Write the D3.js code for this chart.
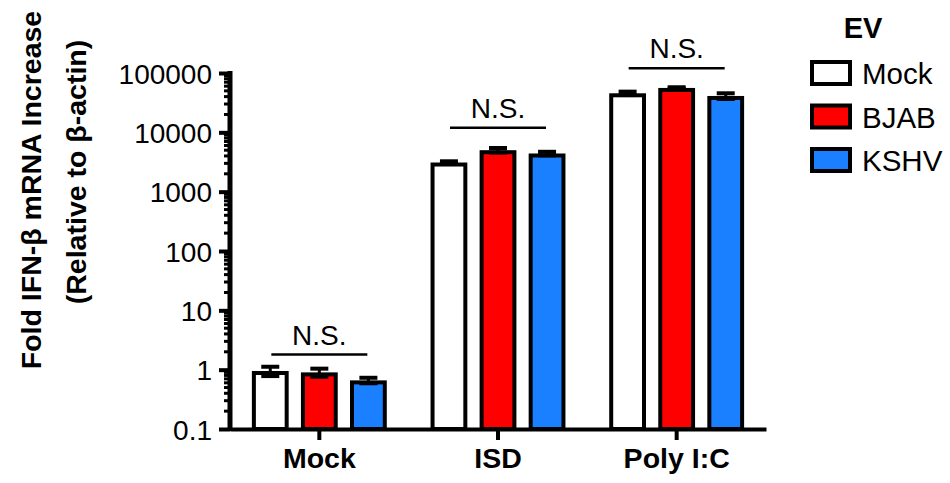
<!DOCTYPE html>
<html>
<head>
<meta charset="utf-8">
<script src="https://cdn.jsdelivr.net/npm/d3@7"></script>
<style>
  body { margin: 0; background: #fff; }
  text { font-family: "Liberation Sans", Arial, Helvetica, sans-serif; fill: #000; }
</style>
</head>
<body>
<div class="main"></div>
<script>
//data
var groups = ["Mock", "ISD", "Poly I:C"];
var series = ["Mock", "BJAB", "KSHV"];
var colours = ["#ffffff", "#ff0000", "#1a80ff"];
// values per group, in series order
var meanValues = [
  [0.95, 0.9, 0.66],
  [3100, 5000, 4400],
  [45500, 56000, 41000]
];
var errValues = [
  [0.17, 0.14, 0.07],
  [150, 450, 300],
  [3000, 1500, 4500]
];
var nsLevels = [1.8, 12000, 120000];
var yTicks = [0.1, 1, 10, 100, 1000, 10000, 100000];

//canvas config
var width = 950, height = 483;
var svg = d3.select(".main")
  .append("svg")
  .attr("width", width)
  .attr("height", height);

var x0 = d3.scaleBand()
  .domain(groups)
  .range([230, 766]);
var x1 = d3.scaleBand()
  .domain(series)
  .range([0, x0.bandwidth()])
  .paddingInner(0.25)
  .paddingOuter(0.446);
var yScale = d3.scaleLog()
  .domain([0.1, 100000])
  .range([429, 73]);

//minor ticks
var minorTicks = [];
for (var d = -1; d < 5; d++) {
  for (var m = 2; m < 10; m++) minorTicks.push(m * Math.pow(10, d));
}
svg.append("g")
  .attr("transform", "translate(230,0)")
  .selectAll("line")
  .data(minorTicks)
  .enter()
  .append("line")
  .attr("x1", -6).attr("x2", 0)
  .attr("y1", function(d) { return yScale(d); })
  .attr("y2", function(d) { return yScale(d); })
  .style("stroke", "#000")
  .style("stroke-width", 3);

//y axis
var yAxis = d3.axisLeft(yScale)
  .tickValues(yTicks)
  .tickFormat(function(d) { return d < 1 ? "0.1" : d3.format("d")(d); })
  .tickSize(11)
  .tickPadding(7);
var gy = svg.append("g")
  .attr("class", "y-axis")
  .attr("transform", "translate(230,0)")
  .call(yAxis);
gy.select(".domain").attr("d", "M0," + (yScale(0.1) + 2) + "V" + (yScale(100000) - 2))
  .style("stroke", "#000").style("stroke-width", 5);
gy.selectAll(".tick line").style("stroke", "#000").style("stroke-width", 4);
gy.selectAll(".tick text")
  .style("font-size", "28px")
  .attr("dy", "0.36em");

//bars
var groupG = svg.append("g")
  .selectAll("g")
  .data(groups)
  .enter()
  .append("g")
  .attr("transform", function(d) { return "translate(" + x0(d) + ",0)"; });

groupG.each(function(g, gi) {
  var sel = d3.select(this);
  series.forEach(function(s, si) {
    var v = meanValues[gi][si];
    var e = errValues[gi][si];
    var bx = x1(s);
    var bw = x1.bandwidth();
    var cx = bx + bw / 2;
    sel.append("rect")
      .attr("x", bx + 2)
      .attr("y", yScale(v) + 2)
      .attr("width", bw - 4)
      .attr("height", yScale(0.1) - yScale(v) - 2)
      .style("fill", colours[si])
      .style("stroke", "#000")
      .style("stroke-width", 4);
    //error bar
    var top = yScale(v + e), bot = yScale(Math.max(v - e, 0.11));
    sel.append("line")
      .attr("x1", cx).attr("x2", cx)
      .attr("y1", top).attr("y2", bot)
      .style("stroke", "#000").style("stroke-width", 3);
    [top, bot].forEach(function(yy) {
      sel.append("line")
        .attr("x1", cx - 9).attr("x2", cx + 9)
        .attr("y1", yy).attr("y2", yy)
        .style("stroke", "#000").style("stroke-width", 4);
    });
  });
  //N.S. annotation
  var cg = x0.bandwidth() / 2;
  var ly = yScale(nsLevels[gi]);
  sel.append("line")
    .attr("x1", cg - 48).attr("x2", cg + 48)
    .attr("y1", ly).attr("y2", ly)
    .style("stroke", "#000").style("stroke-width", 2.5);
  sel.append("text")
    .attr("x", cg)
    .attr("y", ly - 10)
    .attr("text-anchor", "middle")
    .style("font-size", "28px")
    .text("N.S.");
});

//x axis
var xAxis = d3.axisBottom(x0).tickSize(11).tickPadding(8).tickSizeOuter(0);
var gx = svg.append("g")
  .attr("class", "x-axis")
  .attr("transform", "translate(0," + yScale(0.1) + ")")
  .call(xAxis);
gx.select(".domain").style("stroke", "#000").style("stroke-width", 4);
gx.selectAll(".tick line").style("stroke", "#000").style("stroke-width", 4);
gx.selectAll(".tick text")
  .style("font-size", "28.5px")
  .style("font-weight", "bold");

//y axis label
svg.append("text")
  .attr("transform", "translate(41,190) rotate(-90)")
  .attr("text-anchor", "middle")
  .style("font-size", "28.5px")
  .style("font-weight", "bold")
  .text("Fold IFN-\u03b2 mRNA Increase");
svg.append("text")
  .attr("transform", "translate(86,172) rotate(-90)")
  .attr("text-anchor", "middle")
  .style("font-size", "28.5px")
  .style("font-weight", "bold")
  .text("(Relative to \u03b2-actin)");

//legend
var legend = svg.append("g").attr("transform", "translate(810,0)");
legend.append("text")
  .attr("x", 53).attr("y", 38)
  .attr("text-anchor", "middle")
  .style("font-size", "29px")
  .style("font-weight", "bold")
  .text("EV");
var items = legend.selectAll("g.item")
  .data(series)
  .enter()
  .append("g")
  .attr("class", "item")
  .attr("transform", function(d, i) { return "translate(0," + (62 + i * 43.5) + ")"; });
items.append("rect")
  .attr("x", 2).attr("y", 0)
  .attr("width", 38).attr("height", 22)
  .style("fill", function(d, i) { return colours[i]; })
  .style("stroke", "#000")
  .style("stroke-width", 4);
items.append("text")
  .attr("x", 52).attr("y", 22)
  .style("font-size", "29.5px")
  .text(function(d) { return d; });
</script>
</body>
</html>
